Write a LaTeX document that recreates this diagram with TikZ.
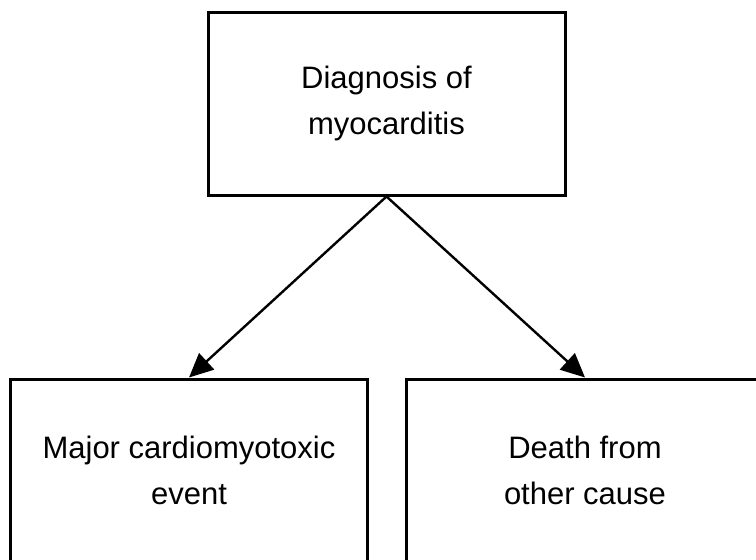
\documentclass[tikz,border=0pt]{standalone}
\usepackage{fontspec}
\setmainfont{Liberation Sans}
\usetikzlibrary{arrows.meta}
\begin{document}
\begin{tikzpicture}[x=1pt,y=-1pt,
  box/.style={draw=black, line width=3pt, fill=white, inner sep=0pt,
    minimum width=357pt, minimum height=183pt, align=center,
    font=\fontsize{31}{46}\selectfont},
  conn/.style={draw=black, line width=2.4pt, -{Triangle[length=24pt,width=22pt]}}]
\useasboundingbox (0,0) rectangle (756,560);
\node[box] (top) at (386.5,103.5) {Diagnosis of\\myocarditis};
\node[box] (left) at (189,470.5) {Major cardiomyotoxic\\event};
\node[box] (right) at (585,470.5) {Death from\\other cause};
\draw[conn] (top.south) -- (left.north);
\draw[conn] (top.south) -- (right.north);
\end{tikzpicture}
\end{document}
